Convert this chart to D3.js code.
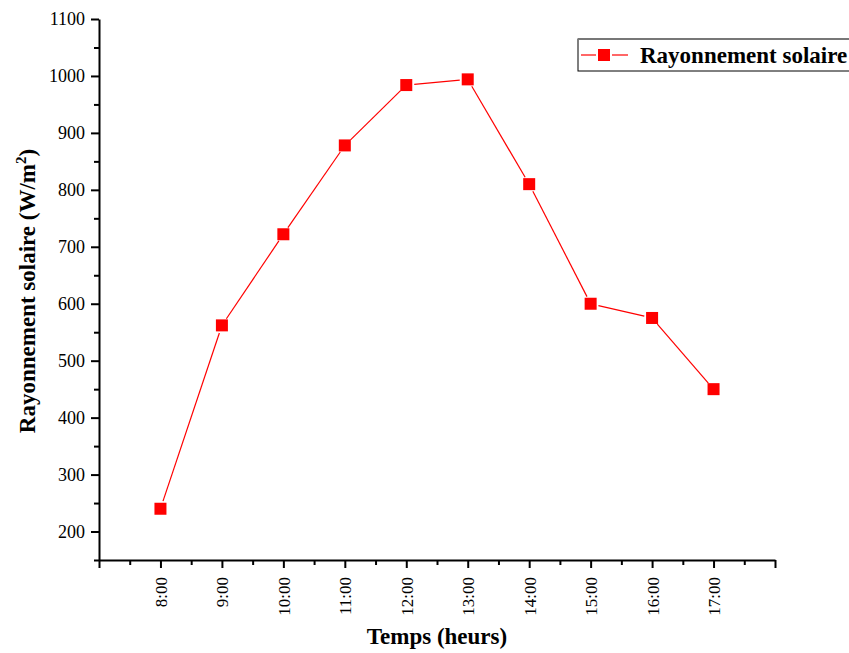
<!DOCTYPE html>
<html>
<head>
<meta charset="utf-8">
<script src="https://cdn.jsdelivr.net/npm/d3@7"></script>
<style>
  body { margin: 0; background: #fff; }
  svg { display: block; font-family: "Liberation Serif", "Times New Roman", serif; }
</style>
</head>
<body>
<svg id="chart" width="849" height="653"></svg>
<script>
// Hourly solar irradiance readings
const hours = [8, 9, 10, 11, 12, 13, 14, 15, 16, 17];
const hourLabels = ["8:00", "9:00", "10:00", "11:00", "12:00", "13:00", "14:00", "15:00", "16:00", "17:00"];
const irradiance = [240, 562, 722, 878, 984, 994, 810, 600, 575, 450];
const yTicks = [200, 300, 400, 500, 600, 700, 800, 900, 1000, 1100];
const seriesName = "Rayonnement solaire";

const svg = d3.select("#chart");
const plotLeft = 99, plotRight = 775, plotTop = 19, plotBottom = 560;

const x = d3.scaleLinear().domain([7, 18]).range([plotLeft, plotRight]);
const y = d3.scaleLinear().domain([150, 1100]).range([plotBottom, plotTop]);

const red = "#ff0000";
const serif = "Liberation Serif";

// Y axis with major and minor ticks
const yMinor = d3.range(150, 1100, 100);
svg.append("g")
  .attr("transform", `translate(${plotLeft},0)`)
  .call(d3.axisLeft(y).tickValues(yMinor).tickSize(5).tickFormat(""))
  .call(g => g.select(".domain").remove())
  .call(g => g.selectAll("line").attr("stroke", "#000").attr("stroke-width", 2));
const yAxis = svg.append("g")
  .attr("transform", `translate(${plotLeft},0)`)
  .call(d3.axisLeft(y).tickValues(yTicks).tickSize(8).tickSizeOuter(0)
    .tickPadding(6).tickFormat(d3.format("d")));
yAxis.attr("font-family", serif);
yAxis.select(".domain").attr("stroke-width", 2);
yAxis.selectAll("line").attr("stroke-width", 2);
yAxis.selectAll("text").attr("font-size", 18).attr("fill", "#000");

// X axis with major and minor ticks
const xMinor = d3.range(7.5, 18, 1);
svg.append("g")
  .attr("transform", `translate(0,${plotBottom})`)
  .call(d3.axisBottom(x).tickValues(xMinor).tickSize(5).tickFormat(""))
  .call(g => g.select(".domain").remove())
  .call(g => g.selectAll("line").attr("stroke", "#000").attr("stroke-width", 2));
const xAxis = svg.append("g")
  .attr("transform", `translate(0,${plotBottom})`)
  .call(d3.axisBottom(x).tickValues([7].concat(hours, [18]))
    .tickSize(8).tickSizeOuter(0)
    .tickFormat(d => { const i = hours.indexOf(d); return i >= 0 ? hourLabels[i] : ""; }));
xAxis.attr("font-family", serif);
xAxis.select(".domain").attr("stroke-width", 2);
xAxis.selectAll("line").attr("stroke-width", 2);
xAxis.selectAll("text")
  .attr("font-size", 17).attr("fill", "#000")
  .attr("transform", "rotate(-90)")
  .attr("text-anchor", "end")
  .attr("x", -17).attr("y", 0).attr("dy", "0.35em");

// Connecting line segments, stopping short of each marker
const pts = hours.map((h, i) => [x(h), y(irradiance[i])]);
const gap = 8;
const segs = [];
for (let i = 0; i < pts.length - 1; i++) {
  const [x1, y1] = pts[i], [x2, y2] = pts[i + 1];
  const len = Math.hypot(x2 - x1, y2 - y1);
  const ux = (x2 - x1) / len, uy = (y2 - y1) / len;
  segs.push([x1 + ux * gap, y1 + uy * gap, x2 - ux * gap, y2 - uy * gap]);
}
svg.append("g").selectAll("line").data(segs).join("line")
  .attr("x1", d => d[0]).attr("y1", d => d[1])
  .attr("x2", d => d[2]).attr("y2", d => d[3])
  .attr("stroke", red).attr("stroke-width", 1.2);

// Square markers
const ms = 12;
svg.append("g").selectAll("rect").data(hours).join("rect")
  .attr("x", (d) => x(d) - ms / 2)
  .attr("y", (d, i) => y(irradiance[i]) - ms / 2)
  .attr("width", ms).attr("height", ms)
  .attr("fill", red);

// Axis titles
svg.append("text")
  .attr("x", 437).attr("y", 644)
  .attr("text-anchor", "middle")
  .attr("font-size", 23).attr("font-weight", "bold")
  .text("Temps (heurs)");

const yt = svg.append("text")
  .attr("transform", `translate(35,291) rotate(-90)`)
  .attr("text-anchor", "middle")
  .attr("font-size", 23).attr("font-weight", "bold");
yt.append("tspan").text("Rayonnement solaire (W/m");
yt.append("tspan").attr("font-size", 15).attr("dy", -9).text("2");
yt.append("tspan").attr("dy", 9).text(")");

// Legend
const lg = svg.append("g").attr("transform", "translate(578,39)");
lg.append("rect").attr("x", 0).attr("y", 0).attr("width", 300).attr("height", 32)
  .attr("fill", "#fff").attr("stroke", "#000").attr("stroke-width", 1);
lg.append("line").attr("x1", 0).attr("x2", 300).attr("y1", 0).attr("y2", 0)
  .attr("stroke", "#777").attr("stroke-width", 2);
lg.append("line").attr("x1", 3).attr("x2", 18).attr("y1", 16).attr("y2", 16).attr("stroke", red).attr("stroke-width", 1.2);
lg.append("line").attr("x1", 34).attr("x2", 50).attr("y1", 16).attr("y2", 16).attr("stroke", red).attr("stroke-width", 1.2);
lg.append("rect").attr("x", 20).attr("y", 10).attr("width", 12).attr("height", 12).attr("fill", red);
lg.append("text").attr("x", 62).attr("y", 24)
  .attr("font-size", 23).attr("font-weight", "bold").text(seriesName);
</script>
</body>
</html>
